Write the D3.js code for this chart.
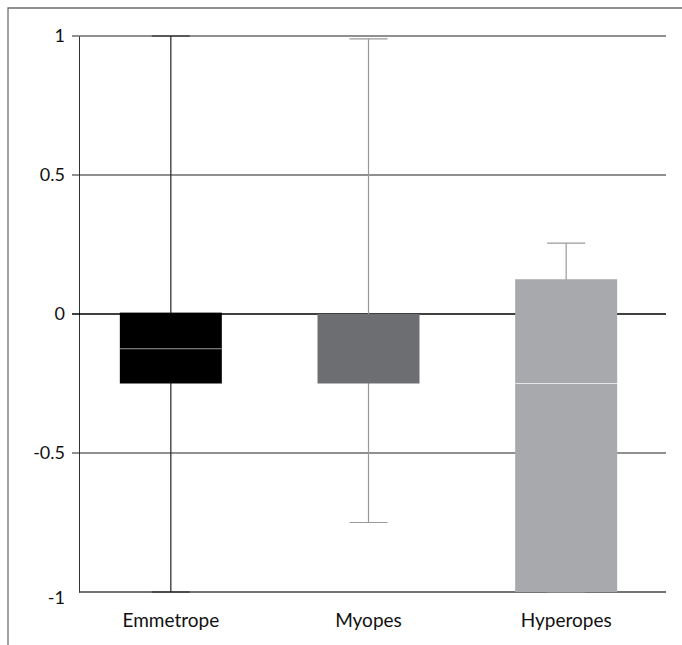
<!DOCTYPE html>
<html>
<head>
<meta charset="utf-8">
<script src="https://cdn.jsdelivr.net/npm/d3@7"></script>
<style>
  body { margin: 0; background: #fff; }
  text { font-family: Lato, "Open Sans", sans-serif; fill: #111; }
</style>
</head>
<body>
<div id="chart"></div>
<script>
'use strict';

// box plot data
const categories   = ['Emmetrope', 'Myopes', 'Hyperopes'];
const boxLow       = [-0.25, -0.25, -1];
const boxHigh      = [0.005, 0, 0.125];
const medians      = [-0.125, null, -0.25];
const whiskerLow   = [-1, -0.75, -1];
const whiskerHigh  = [1, 0.99, 0.255];
const yTicks       = [-1, -0.5, 0, 0.5, 1];
const yTickLabels  = ['-1', '-0.5', '0', '0.5', '1'];

const boxColors     = ['#000000', '#6d6e71', '#a7a9ac'];
const whiskerColors = ['#222222', '#999999', '#999999'];
const medianColors  = ['#9a9a9a', '#8a8a8a', '#e6e6e6'];

const W = 682, H = 645;
const svg = d3.select('#chart').append('svg').attr('width', W).attr('height', H);

const y = d3.scaleLinear().domain([-1, 1]).range([592, 36]);
const x = d3.scaleBand().domain(categories).range([72, 665]).paddingInner(0.484).paddingOuter(0.242);

// outer frame (top and left only)
svg.append('path').attr('d', 'M8,645V8H682').attr('fill', 'none').attr('stroke', '#6d6e71').attr('stroke-width', 1.3);

// gridlines + y axis
const yAxis = d3.axisLeft(y).tickValues(yTicks).tickSize(0).tickPadding(14)
  .tickFormat(function(d, i) { return yTickLabels[i]; });
const gy = svg.append('g').attr('transform', 'translate(79,0)').call(yAxis);
gy.select('.domain').attr('stroke', '#333').attr('stroke-width', 1);
gy.selectAll('.tick text').attr('font-size', 18).attr('font-family', 'Lato, sans-serif').attr('fill', '#111');
gy.selectAll('.tick text').filter(function(d) { return d === -1; }).attr('dy', '0.62em');

svg.append('g').selectAll('line').data(yTicks.filter(function(d) { return d > -1; })).enter().append('line')
  .attr('x1', 72).attr('x2', 666)
  .attr('y1', function(d) { return y(d); }).attr('y2', function(d) { return y(d); })
  .attr('stroke', function(d) { return d === 0 ? '#000' : '#222'; })
  .attr('stroke-width', function(d) { return d === 0 ? 1.4 : 1.1; });

// x axis at -1
svg.append('line').attr('x1', 79).attr('x2', 666).attr('y1', y(-1)).attr('y2', y(-1))
  .attr('stroke', '#444').attr('stroke-width', 1.3);

const capW = 38;
const g = svg.append('g');
categories.forEach(function(c, i) {
  const cx = x(c) + x.bandwidth() / 2;
  g.append('line').attr('x1', cx).attr('x2', cx).attr('y1', y(whiskerLow[i])).attr('y2', y(whiskerHigh[i]))
    .attr('stroke', whiskerColors[i]).attr('stroke-width', 1.2);
  [whiskerLow[i], whiskerHigh[i]].forEach(function(v) {
    g.append('line').attr('x1', cx - capW / 2).attr('x2', cx + capW / 2).attr('y1', y(v)).attr('y2', y(v))
      .attr('stroke', whiskerColors[i]).attr('stroke-width', 1.2);
  });
  g.append('rect').attr('x', x(c)).attr('width', x.bandwidth())
    .attr('y', y(boxHigh[i])).attr('height', y(boxLow[i]) - y(boxHigh[i]))
    .attr('fill', boxColors[i]);
  if (medians[i] !== null) {
    g.append('line').attr('x1', x(c)).attr('x2', x(c) + x.bandwidth())
      .attr('y1', y(medians[i])).attr('y2', y(medians[i]))
      .attr('stroke', medianColors[i]).attr('stroke-width', 1.2);
  }
});

// category labels
svg.append('g').selectAll('text').data(categories).enter().append('text')
  .attr('x', function(d) { return x(d) + x.bandwidth() / 2; })
  .attr('y', 627).attr('text-anchor', 'middle').attr('font-size', 19)
  .text(function(d) { return d; });
</script>
</body>
</html>
